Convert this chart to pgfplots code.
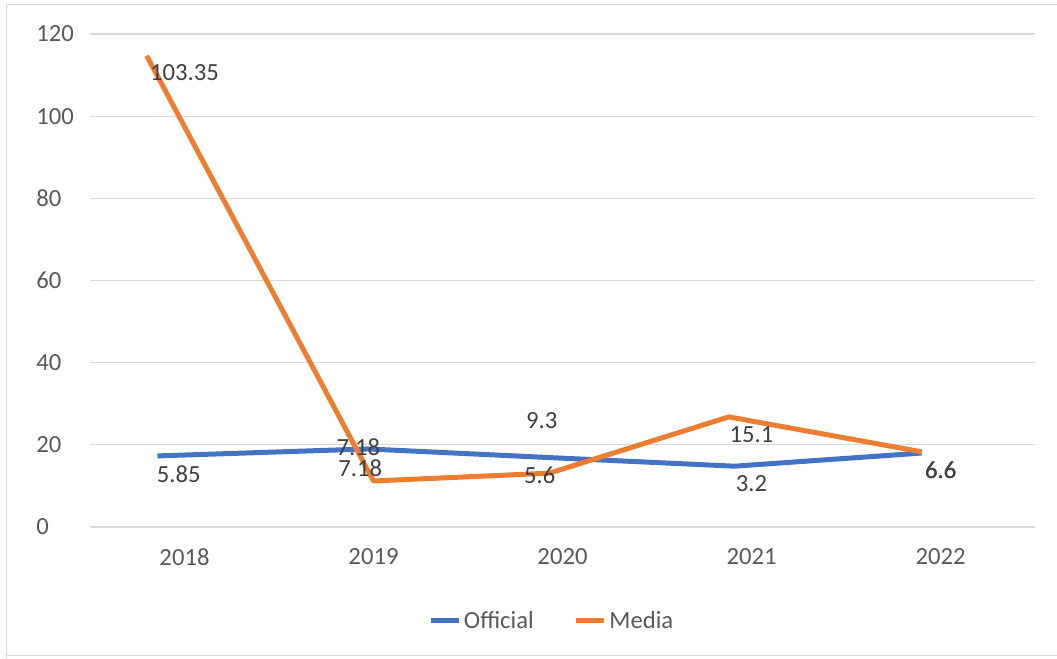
\documentclass[border=0pt]{standalone}
\usepackage{pgfplots}
\pgfplotsset{compat=1.18}
\usepackage{fontspec}
\setmainfont{Carlito}
\definecolor{offblue}{HTML}{4472C4}
\definecolor{medorange}{HTML}{ED7D31}
\definecolor{gridgray}{HTML}{D9D9D9}
\definecolor{axtext}{HTML}{595959}
\definecolor{lbltext}{HTML}{404040}
\begin{document}
\begin{tikzpicture}
\path[use as bounding box] (0,0) rectangle (792.75pt,493.5pt);
\draw[gridgray, line width=0.75pt] (4.5pt,0pt) -- (4.5pt,489.75pt) -- (792.75pt,489.75pt);
\draw[gridgray, line width=0.75pt] (4.5pt,2.25pt) -- (792.75pt,2.25pt);
\begin{axis}[
  at={(67.5pt,98.25pt)}, anchor=south west,
  scale only axis,
  width=708.75pt, height=369.75pt,
  xmin=-0.5, xmax=4.5,
  ymin=0, ymax=120,
  xtick={0,1,2,3,4},
  xticklabels={2018,2019,2020,2021,2022},
  ytick={0,20,40,60,80,100,120},
  axis line style={draw=none},
  major tick length=0pt,
  ymajorgrids, grid style={gridgray, line width=0.9pt},
  font=\fontsize{18.5pt}{22pt}\selectfont,
  ticklabel style={text=axtext, font=\fontsize{18.5pt}{22pt}\selectfont},
  /pgf/number format/assume math mode=true,
  yticklabel style={anchor=west, inner sep=0pt, xshift=-40.5pt},
  xticklabel style={anchor=center, yshift=-22.5pt},
  legend style={at={(0.489,-0.19)}, anchor=center, draw=none, fill=none,
    legend columns=2, text=axtext, font=\fontsize{18.5pt}{22pt}\selectfont,
    /tikz/every even column/.append style={column sep=28pt}},
  legend image code/.code={\draw[#1, line width=3.75pt] (0pt,0pt) -- (21pt,0pt);},
  clip=false,
]
\addplot[offblue, line width=3.75pt, line join=round] coordinates {
  (-0.143,17.3) (0.97,19.0) (1.93,16.9) (2.91,14.8) (3.90,18.0)};
\addlegendentry{Official}
\addplot[medorange, line width=3.75pt, line join=round] coordinates {
  (-0.20,114.7) (1.00,11.2) (1.93,13.1) (2.88,26.8) (3.90,18.3)};
\addlegendentry{Media}
\begin{scope}[every node/.style={text=lbltext, font=\fontsize{18.5pt}{22pt}\selectfont, inner sep=0pt}]
\node at (axis cs:0,110.5) {103.35};
\node at (axis cs:-0.03,12.9) {5.85};
\node at (axis cs:0.92,19.5) {7.18};
\node at (axis cs:0.93,14.4) {7.18};
\node at (axis cs:1.89,26.0) {9.3};
\node at (axis cs:1.88,12.7) {5.6};
\node at (axis cs:3.0,22.4) {15.1};
\node at (axis cs:3.0,10.5) {3.2};
\node at (axis cs:4.0,13.9) {6.6};
\node at (axis cs:4.003,13.9) {6.6};
\end{scope}
\end{axis}
\end{tikzpicture}
\end{document}
